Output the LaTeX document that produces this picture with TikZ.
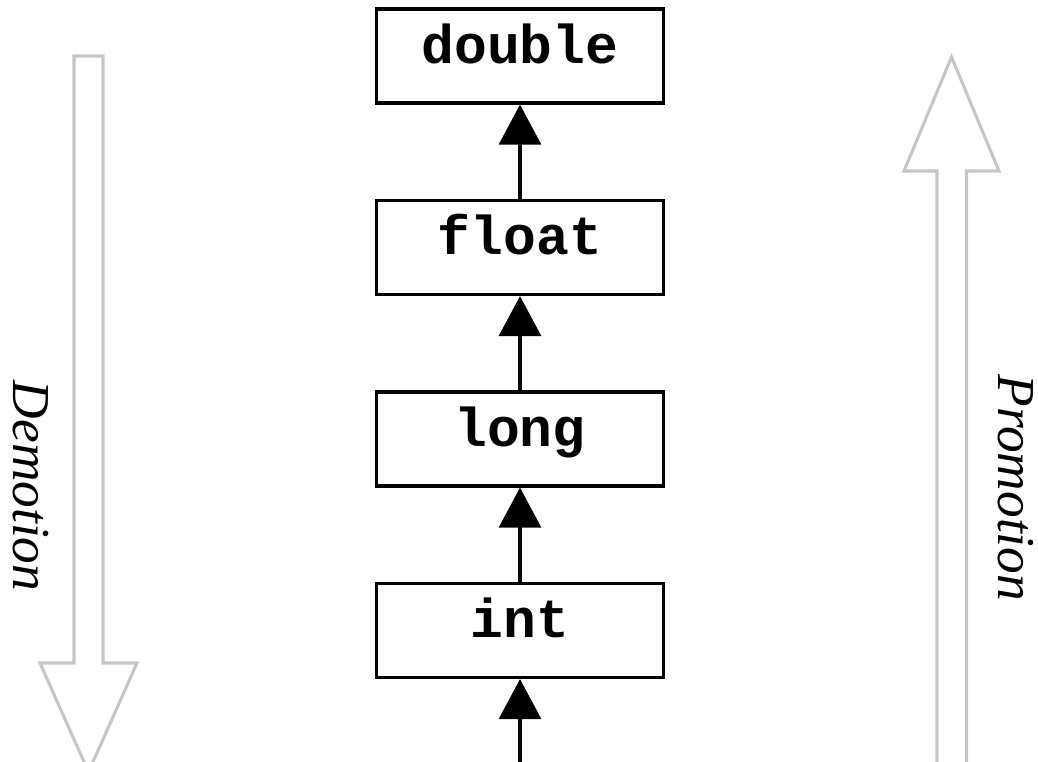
\documentclass[tikz,border=0pt]{standalone}
\usepackage{fontspec}
\setmainfont{Liberation Serif}
\newfontfamily\codefont{Liberation Mono}
\usetikzlibrary{arrows.meta}
\definecolor{hollow}{HTML}{C6C6C6}
\tikzset{
  typebox/.style={draw, line width=2.4pt, inner xsep=0pt, inner ysep=0pt,
    minimum width=215pt, text height=40.5pt, text depth=30pt,
    font=\codefont\bfseries\fontsize{41}{41}\selectfont},
  conn/.style={line width=2.4pt, -{Triangle[width=31.5pt,length=30pt]}},
  bigarrow/.style={draw=hollow, line width=2.3pt, line join=miter},
  sidelabel/.style={rotate=-90, anchor=base, inner sep=0pt,
    font=\itshape\fontsize{40}{40}\selectfont}
}
\begin{document}
\begin{tikzpicture}[x=0.75pt, y=-0.75pt]
  \useasboundingbox (0,0) rectangle (1038,761);
  \clip (0,0) rectangle (1038,761);

  % type boxes, widest type at the top
  \node[typebox, anchor=base] (double) at (520,63)    {double};
  \node[typebox, anchor=base] (float)  at (520,254.5) {float};
  \node[typebox, anchor=base] (long)   at (520,446)   {long};
  \node[typebox, anchor=base] (int)    at (520,637.5) {int};
  \coordinate (below) at (520,765);

  \draw[conn] (below) -- (int.south);
  \draw[conn] (int.north) -- (long.south);
  \draw[conn] (long.north) -- (float.south);
  \draw[conn] (float.north) -- (double.south);

  % hollow direction arrows
  \draw[bigarrow] (74,56) -- (103,56) -- (103,663) -- (137,663) -- (88.5,772)
    -- (40,663) -- (74,663) -- cycle;
  \draw[bigarrow] (937,775) -- (937,171) -- (904,171) -- (951.5,57)
    -- (999,171) -- (966.5,171) -- (966.5,775);

  \node[sidelabel] (demotion)  at (13,486)  {Demotion};
  \node[sidelabel] (promotion) at (998,488) {Promotion};
\end{tikzpicture}
\end{document}
